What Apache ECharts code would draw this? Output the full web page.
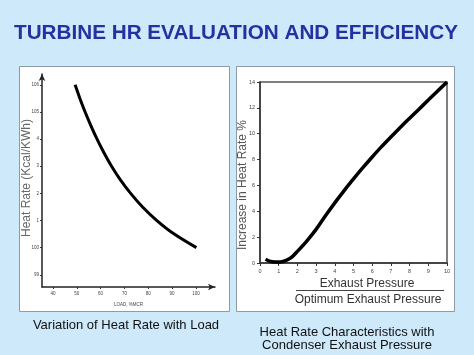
<!DOCTYPE html>
<html><head><meta charset="utf-8">
<script src="https://cdn.jsdelivr.net/npm/echarts@6/dist/echarts.min.js"></script>
<style>html,body{margin:0;padding:0;background:#cde9fa}#c{width:474px;height:355px}</style>
</head><body><div id="c"></div>
<script>
// Left chart: Variation of Heat Rate with Load
const loadPct = [49.3, 51.3, 53.5, 55.9, 58.5, 61.4, 64.6, 68.3, 72.6, 77.6, 83.6, 90.9, 100.2];
const heatRate = [106, 105.5, 105, 104.5, 104, 103.5, 103, 102.5, 102, 101.5, 101, 100.5, 100];
const loadTicks = [40, 50, 60, 70, 80, 90, 100];
const heatRateTicks = [99, 100, 101, 102, 103, 104, 105, 106];
const heatRateTickLabels = ['99', '100', '1', '2', '3', '4', '105', '106'];

// Right chart: Heat Rate Characteristics with Condenser Exhaust Pressure
const pressureRatio = [0.3, 0.5, 0.8, 1.1, 1.4, 1.7, 2.0, 2.5, 3.0, 3.5, 4.0, 4.5, 5.0, 5.5, 6.0, 6.5, 7.0, 7.5, 8.0, 8.5, 9.0, 9.5, 10.0];
const hrIncrease = [0.3, 0.15, 0.08, 0.08, 0.2, 0.45, 0.9, 1.7, 2.6, 3.65, 4.65, 5.6, 6.5, 7.37, 8.2, 9.0, 9.75, 10.48, 11.2, 11.9, 12.6, 13.3, 14.0];
const pressureTicks = [0, 1, 2, 3, 4, 5, 6, 7, 8, 9, 10];
const hrIncreaseTicks = [0, 2, 4, 6, 8, 10, 12, 14];

const FONT = '"Liberation Sans", Arial, sans-serif';

const chart = echarts.init(document.getElementById('c'), null, {renderer: 'canvas'});
chart.setOption({
  backgroundColor: '#cde9fa',
  animation: false,
  textStyle: {fontFamily: FONT},
  title: {
    text: 'TURBINE HR EVALUATION AND EFFICIENCY',
    left: 9, top: 18,
    textStyle: {color: '#2630a0', fontSize: 20.7, fontWeight: 'bold', fontFamily: FONT}
  },
  graphic: [
    {type: 'rect', z: -10, shape: {x: 19.5, y: 66.5, width: 210, height: 245}, style: {fill: '#fff', stroke: '#8c9ba6', lineWidth: 1}},
    {type: 'rect', z: -10, shape: {x: 236.5, y: 66.5, width: 218, height: 245}, style: {fill: '#fff', stroke: '#8c9ba6', lineWidth: 1}},
    {type: 'text', style: {x: 126, y: 325, text: 'Variation of Heat Rate with Load', font: '13px ' + FONT, fill: '#111', align: 'center', verticalAlign: 'middle'}},
    {type: 'text', style: {x: 347, y: 332, text: 'Heat Rate Characteristics with', font: '13px ' + FONT, fill: '#111', align: 'center', verticalAlign: 'middle'}},
    {type: 'text', style: {x: 347, y: 345.5, text: 'Condenser Exhaust Pressure', font: '13px ' + FONT, fill: '#111', align: 'center', verticalAlign: 'middle'}},
    {type: 'text', style: {x: 367, y: 284, text: 'Exhaust Pressure', font: '12px ' + FONT, fill: '#333', align: 'center', verticalAlign: 'middle'}},
    {type: 'line', shape: {x1: 296, y1: 290.5, x2: 444, y2: 290.5}, style: {stroke: '#444', lineWidth: 1}},
    {type: 'text', style: {x: 368, y: 300, text: 'Optimum Exhaust Pressure', font: '12px ' + FONT, fill: '#333', align: 'center', verticalAlign: 'middle'}},
    {type: 'text', x: 27, y: 178, rotation: Math.PI / 2, style: {x: 0, y: 0, text: 'Heat Rate (Kcal/KWh)', font: '12px ' + FONT, fill: '#666', align: 'center', verticalAlign: 'middle'}},
    {type: 'text', x: 243, y: 185, rotation: Math.PI / 2, style: {x: 0, y: 0, text: 'Increase in Heat Rate %', font: '12px ' + FONT, fill: '#555', align: 'center', verticalAlign: 'middle'}}
  ],
  grid: [
    {left: 42, top: 74, right: 259, bottom: 68, containLabel: false},
    {left: 260, top: 82, right: 27, bottom: 92, containLabel: false, show: true, borderColor: '#555', borderWidth: 1.5, backgroundColor: 'transparent'}
  ],
  xAxis: [
    {
      type: 'value', gridIndex: 0, min: 35.4, max: 108,
      name: 'LOAD, %MCR', nameLocation: 'middle', nameGap: 15,
      nameTextStyle: {fontSize: 4.5, color: '#444'},
      axisLine: {lineStyle: {color: '#222', width: 1.5}, symbol: ['none', 'arrow'], symbolSize: [5, 7]},
      axisTick: {show: true, length: 2, lineStyle: {color: '#333'}, customValues: loadTicks},
      axisLabel: {fontSize: 4.5, color: '#444', margin: 4, customValues: loadTicks},
      splitLine: {show: false}
    },
    {
      type: 'value', gridIndex: 1, min: 0, max: 10, interval: 1,
      axisLine: {lineStyle: {color: '#333', width: 1.5}},
      axisTick: {show: true, length: 3, lineStyle: {color: '#333'}, customValues: pressureTicks},
      axisLabel: {fontSize: 5.5, color: '#444', margin: 5, customValues: pressureTicks},
      splitLine: {show: false}
    }
  ],
  yAxis: [
    {
      type: 'value', gridIndex: 0, min: 98.55, max: 106.4,
      axisLine: {show: true, lineStyle: {color: '#222', width: 1.5}, symbol: ['none', 'arrow'], symbolSize: [5, 7]},
      axisTick: {show: true, length: 2, lineStyle: {color: '#333'}, customValues: heatRateTicks},
      axisLabel: {fontSize: 4.5, color: '#444', margin: 3, customValues: heatRateTicks,
        formatter: v => heatRateTickLabels[heatRateTicks.indexOf(Math.round(v))] || ''},
      splitLine: {show: false}
    },
    {
      type: 'value', gridIndex: 1, min: 0, max: 14, interval: 2,
      axisLine: {show: true, lineStyle: {color: '#333', width: 1.5}},
      axisTick: {show: true, length: 3, lineStyle: {color: '#333'}, customValues: hrIncreaseTicks},
      axisLabel: {fontSize: 5.5, color: '#444', margin: 5, customValues: hrIncreaseTicks},
      splitLine: {show: false}
    }
  ],
  series: [
    {
      type: 'line', xAxisIndex: 0, yAxisIndex: 0, smooth: 0.35, showSymbol: false,
      lineStyle: {color: '#000', width: 3},
      data: loadPct.map((x, i) => [x, heatRate[i]])
    },
    {
      type: 'line', xAxisIndex: 1, yAxisIndex: 1, smooth: 0.3, showSymbol: false,
      lineStyle: {color: '#000', width: 3.5},
      data: pressureRatio.map((x, i) => [x, hrIncrease[i]])
    }
  ]
});
</script>
</body></html>
